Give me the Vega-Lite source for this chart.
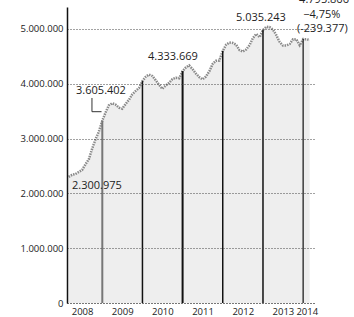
{
  "$schema": "https://vega.github.io/schema/vega-lite/v6.json",
  "autosize": "none",
  "width": 249,
  "height": 296,
  "padding": {"left": 67, "top": 7, "right": 38, "bottom": 14},
  "background": "white",
  "config": {
    "view": {"stroke": null},
    "font": "Open Sans",
    "locale": {"number": {"decimal": ",", "thousands": ".", "grouping": [3], "currency": ["", " €"]}}
  },
  "datasets": {
    "paro": [
      {"date": "2008-03-01", "v": 2300975}, {"date": "2008-04-01", "v": 2338517}, {"date": "2008-05-01", "v": 2352370},
      {"date": "2008-06-01", "v": 2390411}, {"date": "2008-07-01", "v": 2426185}, {"date": "2008-08-01", "v": 2530001},
      {"date": "2008-09-01", "v": 2625368}, {"date": "2008-10-01", "v": 2818026}, {"date": "2008-11-01", "v": 2989269},
      {"date": "2008-12-01", "v": 3128963}, {"date": "2009-01-01", "v": 3327801}, {"date": "2009-02-01", "v": 3481859},
      {"date": "2009-03-01", "v": 3605402}, {"date": "2009-04-01", "v": 3644041}, {"date": "2009-05-01", "v": 3620139},
      {"date": "2009-06-01", "v": 3564889}, {"date": "2009-07-01", "v": 3544105}, {"date": "2009-08-01", "v": 3629274},
      {"date": "2009-09-01", "v": 3709447}, {"date": "2009-10-01", "v": 3808353}, {"date": "2009-11-01", "v": 3868946},
      {"date": "2009-12-01", "v": 3923603}, {"date": "2010-01-01", "v": 4048493}, {"date": "2010-02-01", "v": 4130625},
      {"date": "2010-03-01", "v": 4166613}, {"date": "2010-04-01", "v": 4142425}, {"date": "2010-05-01", "v": 4066202},
      {"date": "2010-06-01", "v": 3982368}, {"date": "2010-07-01", "v": 3908262}, {"date": "2010-08-01", "v": 3969661},
      {"date": "2010-09-01", "v": 4017763}, {"date": "2010-10-01", "v": 4085976}, {"date": "2010-11-01", "v": 4110294},
      {"date": "2010-12-01", "v": 4100073}, {"date": "2011-01-01", "v": 4231003}, {"date": "2011-02-01", "v": 4299263},
      {"date": "2011-03-01", "v": 4333669}, {"date": "2011-04-01", "v": 4269360}, {"date": "2011-05-01", "v": 4189659},
      {"date": "2011-06-01", "v": 4121801}, {"date": "2011-07-01", "v": 4079742}, {"date": "2011-08-01", "v": 4130927},
      {"date": "2011-09-01", "v": 4226744}, {"date": "2011-10-01", "v": 4360926}, {"date": "2011-11-01", "v": 4420462},
      {"date": "2011-12-01", "v": 4422359}, {"date": "2012-01-01", "v": 4599829}, {"date": "2012-02-01", "v": 4712098},
      {"date": "2012-03-01", "v": 4750867}, {"date": "2012-04-01", "v": 4744235}, {"date": "2012-05-01", "v": 4714122},
      {"date": "2012-06-01", "v": 4615269}, {"date": "2012-07-01", "v": 4587455}, {"date": "2012-08-01", "v": 4625634},
      {"date": "2012-09-01", "v": 4705279}, {"date": "2012-10-01", "v": 4833521}, {"date": "2012-11-01", "v": 4907817},
      {"date": "2012-12-01", "v": 4848723}, {"date": "2013-01-01", "v": 4980778}, {"date": "2013-02-01", "v": 5040222},
      {"date": "2013-03-01", "v": 5035243}, {"date": "2013-04-01", "v": 4989193}, {"date": "2013-05-01", "v": 4890928},
      {"date": "2013-06-01", "v": 4763680}, {"date": "2013-07-01", "v": 4698814}, {"date": "2013-08-01", "v": 4698783},
      {"date": "2013-09-01", "v": 4724355}, {"date": "2013-10-01", "v": 4811383}, {"date": "2013-11-01", "v": 4808908},
      {"date": "2013-12-01", "v": 4701338}, {"date": "2014-01-01", "v": 4814435}, {"date": "2014-02-01", "v": 4812486},
      {"date": "2014-03-01", "v": 4795866}
    ],
    "years": [
      {"date": "2009-01-01", "v": 3327801, "c": "#777777", "w": 2},
      {"date": "2010-01-01", "v": 4048493, "c": "#111111", "w": 1.5},
      {"date": "2011-01-01", "v": 4231003, "c": "#111111", "w": 2},
      {"date": "2012-01-01", "v": 4599829, "c": "#111111", "w": 1.5},
      {"date": "2013-01-01", "v": 4980778, "c": "#111111", "w": 1.5},
      {"date": "2014-01-01", "v": 4814435, "c": "#111111", "w": 1.2}
    ],
    "labels": [
      {"date": "2008-11-13", "v": 2135000, "t": "2.300.975", "b": "normal"},
      {"date": "2008-12-20", "v": 3870000, "t": "3.605.402", "b": "normal"},
      {"date": "2010-10-05", "v": 4490000, "t": "4.333.669", "b": "normal"},
      {"date": "2012-12-13", "v": 5200000, "t": "5.035.243", "b": "normal"},
      {"date": "2014-06-20", "v": 5250000, "t": "−4,75%", "b": "normal"},
      {"date": "2014-06-25", "v": 4990000, "t": "(-239.377)", "b": "normal"},
      {"date": "2014-07-10", "v": 5530000, "t": "4.795.866", "b": "bold"}
    ],
    "leader": [
      {"d1": "2008-09-29", "d2": "2008-09-29", "v1": 3490000, "v2": 3740000},
      {"d1": "2008-09-29", "d2": "2008-12-25", "v1": 3490000, "v2": 3490000}
    ]
  },
  "layer": [
    {
      "data": {"name": "paro"},
      "mark": {"type": "area", "fill": "#eeeeee", "clip": false},
      "encoding": {
        "x": {"field": "date", "type": "temporal",
          "scale": {"domain": ["2008-02-15", "2014-04-28"]},
          "axis": {
            "title": null, "grid": false, "ticks": false,
            "domain": true, "domainColor": "#555555", "domainDash": [1, 2], "domainWidth": 1,
            "values": [
              {"year": 2008, "month": 7, "date": 1}, {"year": 2009, "month": 7, "date": 1},
              {"year": 2010, "month": 7, "date": 1}, {"year": 2011, "month": 7, "date": 1},
              {"year": 2012, "month": 7, "date": 1}, {"year": 2013, "month": 7, "date": 1},
              {"year": 2014, "month": 2, "date": 3}
            ],
            "labelExpr": "timeFormat(datum.value, '%Y')",
            "labelFontSize": 9.5, "labelColor": "#222222", "labelPadding": 3, "labelFlush": false, "labelOverlap": false
          }
        },
        "y": {"field": "v", "type": "quantitative",
          "scale": {"domain": [0, 5400000], "nice": false},
          "axis": {
            "title": null, "values": [0, 1000000, 2000000, 3000000, 4000000, 5000000],
            "format": ",d", "labelFontSize": 9.5, "labelColor": "#222222",
            "ticks": false, "labelPadding": 4,
            "domainColor": "#111111", "domainWidth": 1.5,
            "grid": true, "gridColor": "#444444", "gridDash": [1, 2], "gridWidth": 1,
            "zindex": 1
          }
        }
      }
    },
    {
      "data": {"name": "paro"},
      "mark": {"type": "line", "stroke": "#8a8a8a", "strokeWidth": 2.5, "strokeDash": [1.5, 1]},
      "encoding": {
        "x": {"field": "date", "type": "temporal"},
        "y": {"field": "v", "type": "quantitative"}
      }
    },
    {
      "data": {"name": "years"},
      "mark": {"type": "rule"},
      "encoding": {
        "x": {"field": "date", "type": "temporal"},
        "y": {"field": "v", "type": "quantitative"},
        "y2": {"datum": 0},
        "color": {"field": "c", "type": "nominal", "scale": null},
        "strokeWidth": {"field": "w", "type": "quantitative", "scale": null}
      }
    },
    {
      "data": {"name": "leader"},
      "mark": {"type": "rule", "color": "#333333", "strokeWidth": 1},
      "encoding": {
        "x": {"field": "d1", "type": "temporal"},
        "x2": {"field": "d2"},
        "y": {"field": "v1", "type": "quantitative"},
        "y2": {"field": "v2"}
      }
    },
    {
      "data": {"name": "labels"},
      "mark": {"type": "text", "fontSize": 11, "color": "#222222", "align": "center", "baseline": "middle"},
      "encoding": {
        "x": {"field": "date", "type": "temporal"},
        "y": {"field": "v", "type": "quantitative"},
        "text": {"field": "t"},
        "fontWeight": {"field": "b", "type": "nominal", "scale": null}
      }
    }
  ]
}
